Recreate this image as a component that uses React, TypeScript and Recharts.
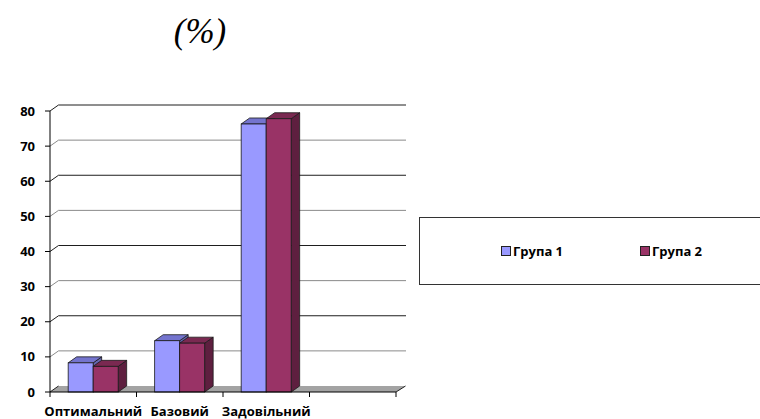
import React from "react";
import { BarChart, Bar, XAxis, YAxis, CartesianGrid } from "recharts";

const categories = ["Оптимальний", "Базовий", "Задовільний", ""];
const group1 = [8.3, 14.6, 76.3, null];
const group2 = [7.3, 13.9, 77.8, null];
const yTicks = [0, 10, 20, 30, 40, 50, 60, 70, 80];
const seriesNames = ["Група 1", "Група 2"];

const data = categories.map((c, i) => ({ name: c, g1: group1[i], g2: group2[i] }));

const DX = 8.5;
const DY = 6;
const FONT = "'Open Sans', 'DejaVu Sans', sans-serif";

const COLORS = {
  g1: { front: "#9999FF", top: "#7474CE", side: "#6666B0" },
  g2: { front: "#993366", top: "#7A2951", side: "#5E1F3F" },
};
const seriesColors = [COLORS.g1.front, COLORS.g2.front];

const make3DBar = (c: { front: string; top: string; side: string }) => (props: any) => {
  const { x, y, width, height } = props;
  if (x == null || y == null || !height) return <g />;
  const w = width;
  const h = height;
  const stroke = "#1a1a1a";
  const sw = 0.8;
  return (
    <g>
      <polygon
        points={`${x + w},${y} ${x + w + DX},${y - DY} ${x + w + DX},${y + h - DY} ${x + w},${y + h}`}
        fill={c.side}
        stroke={stroke}
        strokeWidth={sw}
      />
      <polygon
        points={`${x},${y} ${x + DX},${y - DY} ${x + w + DX},${y - DY} ${x + w},${y}`}
        fill={c.top}
        stroke={stroke}
        strokeWidth={sw}
      />
      <rect x={x} y={y} width={w} height={h} fill={c.front} stroke={stroke} strokeWidth={sw} />
    </g>
  );
};

const gridLine = (p: any) => {
  const { x1, y1, x2, index } = p;
  const isFloor =
    p.y != null && p.height != null ? Math.abs(y1 - (p.y + p.height)) < 0.6 : index === 0;
  if (isFloor) {
    return (
      <g key={p.key}>
        <polygon
          points={`${x1},${y1} ${x2},${y1} ${x2 + DX + 1},${y1 - DY} ${x1 + DX},${y1 - DY}`}
          fill="#a3a3a3"
          stroke="none"
        />
        <line x1={x1} y1={y1} x2={x1 + DX} y2={y1 - DY} stroke="#222" strokeWidth={1} />
        <line x1={x2} y1={y1} x2={x2 + DX + 1} y2={y1 - DY} stroke="#222" strokeWidth={1} />
      </g>
    );
  }
  const dark = index % 2 === 0;
  return (
    <path
      key={p.key}
      d={`M${x1},${y1} L${x1 + DX},${y1 - DY} L${x2 + 10},${y1 - DY}`}
      fill="none"
      stroke={dark ? "#1e1e1e" : "#8a8a8a"}
      strokeWidth={1}
    />
  );
};

const BAND = 346 / 4;

const XTick = (props: any) => {
  const { x, y, payload, index } = props;
  const left = x - BAND / 2;
  return (
    <g>
      <line x1={left} y1={y - 2} x2={left} y2={y + 3} stroke="#000" strokeWidth={1} />
      {index === categories.length - 1 && (
        <line x1={x + BAND / 2} y1={y - 2} x2={x + BAND / 2} y2={y + 3} stroke="#000" strokeWidth={1} />
      )}
      <text
        x={x}
        y={y + 22}
        textAnchor="middle"
        fontFamily={FONT}
        fontWeight={700}
        fontSize={13}
        fill="#000"
      >
        {payload.value}
      </text>
    </g>
  );
};

function LegendBox() {
  const lefts = [81, 220];
  return (
    <div
      style={{
        position: "absolute",
        left: 419,
        top: 217,
        width: 350,
        height: 68,
        border: "1px solid #333",
        boxSizing: "border-box",
        background: "#fff",
      }}
    >
      {seriesNames.map((name, i) => (
        <div
          key={i}
          style={{
            position: "absolute",
            left: lefts[i],
            top: 24,
            display: "flex",
            alignItems: "center",
            fontFamily: FONT,
            fontWeight: 700,
            fontSize: 13,
            color: "#000",
            lineHeight: "18px",
            whiteSpace: "nowrap",
          }}
        >
          <span
            style={{
              display: "inline-block",
              width: 8,
              height: 8,
              background: seriesColors[i],
              border: "1.5px solid #222",
              boxSizing: "content-box",
              marginRight: 2,
            }}
          />
          {name}
        </div>
      ))}
    </div>
  );
}

export default function App() {
  return (
    <div style={{ position: "absolute", left: 0, top: 0, width: 760, height: 419, background: "#fff", overflow: "hidden" }}>
      <div
        style={{
          position: "absolute",
          left: 0,
          width: 400,
          top: 12,
          textAlign: "center",
          fontFamily: "'Liberation Serif', 'Times New Roman', serif",
          fontStyle: "italic",
          fontSize: 35,
          lineHeight: "40px",
          color: "#000",
        }}
      >
        (%)
      </div>
      <div style={{ position: "absolute", left: 0, top: 0 }}>
        <BarChart
          width={760}
          height={419}
          data={data}
          margin={{ top: 111, right: 364, bottom: 0, left: 0 }}
          barCategoryGap="21%"
          barGap={0}
        >
          <CartesianGrid vertical={false} horizontal={gridLine} />
          <YAxis
            width={50}
            domain={[0, 80]}
            ticks={yTicks}
            interval={0}
            axisLine={{ stroke: "#000" }}
            tickLine={{ stroke: "#000" }}
            tickSize={5}
            tickMargin={10}
            tick={{ fontFamily: FONT, fontWeight: 700, fontSize: 13, fill: "#000" }}
          />
          <XAxis
            dataKey="name"
            height={27}
            interval={0}
            axisLine={{ stroke: "#000" }}
            tickLine={false}
            tickSize={0}
            tick={<XTick />}
          />
          <Bar dataKey="g1" name={seriesNames[0]} fill={COLORS.g1.front} shape={make3DBar(COLORS.g1)} isAnimationActive={false} />
          <Bar dataKey="g2" name={seriesNames[1]} fill={COLORS.g2.front} shape={make3DBar(COLORS.g2)} isAnimationActive={false} />
        </BarChart>
      </div>
      <LegendBox />
    </div>
  );
}
